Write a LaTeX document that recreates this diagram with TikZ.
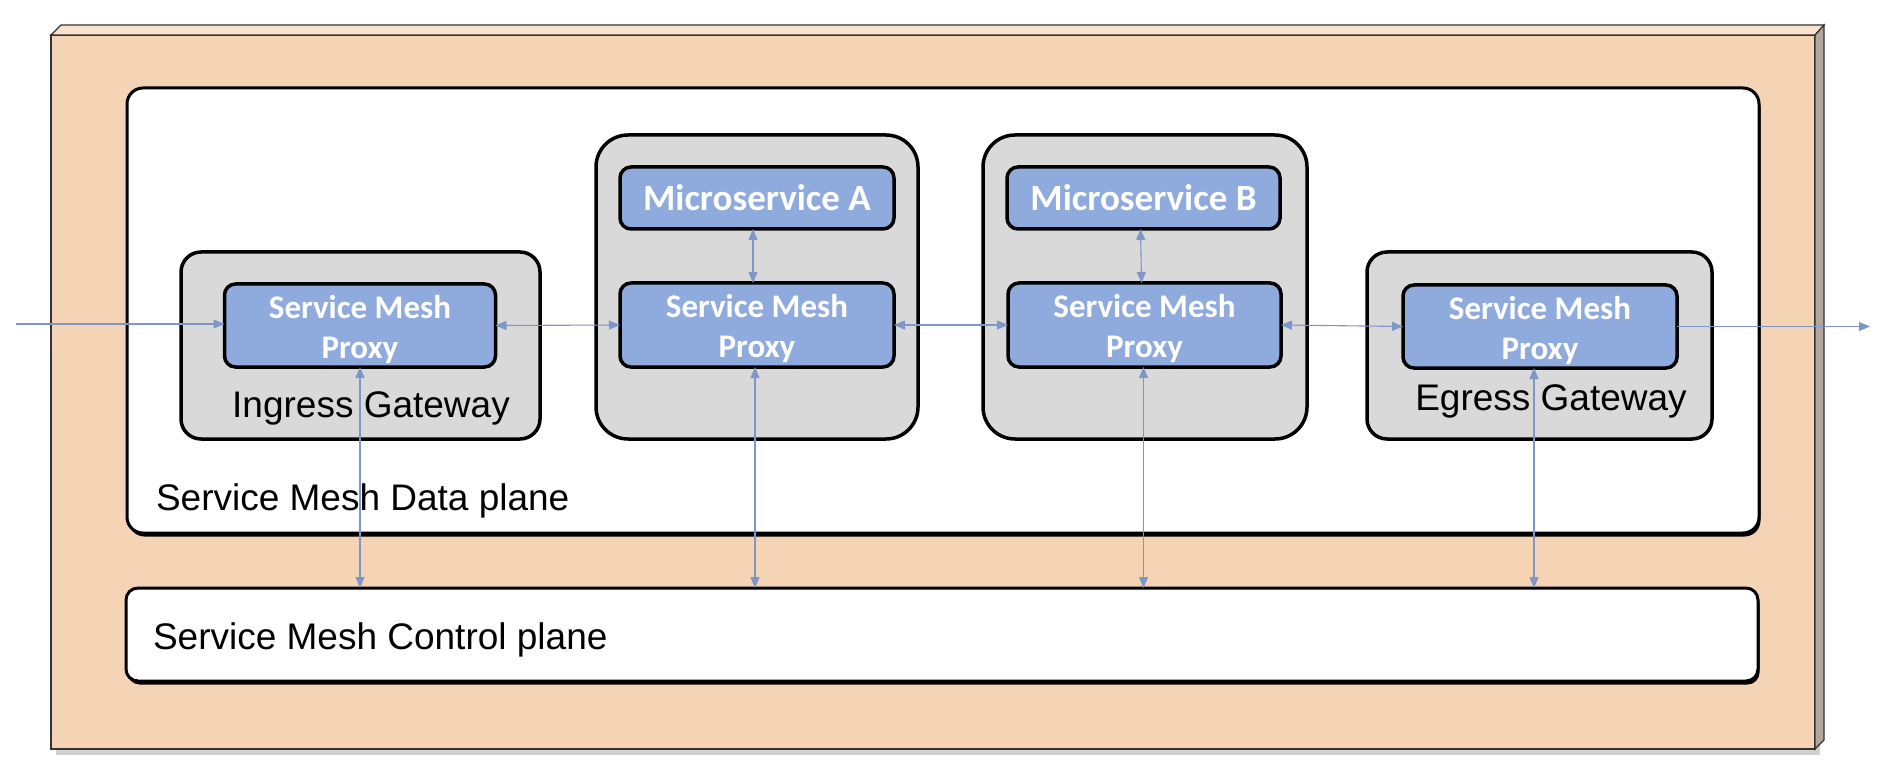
\documentclass[tikz,border=0pt]{standalone}
\usepackage{fontspec}
\setmainfont{Liberation Sans}
\newfontfamily\calibfont{Carlito}
\usetikzlibrary{arrows.meta,calc}
\definecolor{peach}{HTML}{F5D3B5}
\definecolor{peachtop}{HTML}{F9E2CE}
\definecolor{bevelside}{HTML}{B3A69C}
\definecolor{boxgray}{HTML}{D9D9D9}
\definecolor{proxyblue}{HTML}{8FAADC}
\definecolor{linkblue}{HTML}{7F96C8}
\newcommand{\proxytxt}{\rule{0pt}{31pt}Service Mesh\\Proxy}
\tikzset{
  every node/.style={outer sep=0pt},
  gwbox/.style={draw=black, line width=3.5pt, fill=boxgray, rounded corners=20pt, anchor=north west, inner sep=0pt},
  ctbox/.style={draw=black, line width=3.5pt, fill=boxgray, rounded corners=32pt, anchor=north west, inner sep=0pt},
  bluebox/.style={draw=black, line width=3.5pt, fill=proxyblue, rounded corners=11pt, text=white,
    font=\calibfont\bfseries\fontsize{33}{40}\selectfont, align=center, inner sep=0pt},
  planebox/.style={draw=black, line width=3pt, fill=white, rounded corners=16pt, anchor=north west, inner sep=0pt,
    preaction={fill=black, transform canvas={shift={(1.5pt,-3.5pt)}}}},
  lbl/.style={font=\fontsize{37}{44}\selectfont, inner sep=0pt},
  link/.style={draw=linkblue, line width=1.1pt, {Triangle[length=11pt,width=9pt]}-{Triangle[length=11pt,width=9pt]}},
  linkone/.style={draw=linkblue, line width=1.1pt, -{Triangle[length=11pt,width=9pt]}},
}
\begin{document}
\begin{tikzpicture}[x=1pt,y=-1pt]
\useasboundingbox (0,0) rectangle (1881,775);
% outer 3D frame
\fill[black!18] (56,40) rectangle (1820,755);
\filldraw[fill=peach, draw=black!80, line width=1.2pt] (51,35) rectangle (1815,749);
\filldraw[fill=peachtop, draw=black!80, line width=1.2pt] (51,35) -- (61,25) -- (1824,25) -- (1815,35) -- cycle;
\filldraw[fill=bevelside, draw=black!80, line width=1.2pt] (1815,35) -- (1824,25) -- (1824,740) -- (1815,749) -- cycle;

% planes
\node[planebox, minimum width=1632pt, minimum height=445pt] (dp) at (127,88) {};
\node[planebox, minimum width=1632pt, minimum height=93pt, rounded corners=12pt] (cp) at (126,588) {};
\node[lbl, anchor=base west] (dpl) at (156,510) {Service Mesh Data plane};
\node[lbl, anchor=base west] (cpl) at (153,649) {Service Mesh Control plane};

% containers
\node[gwbox, minimum width=359pt, minimum height=187pt] (ingw) at (181,252) {};
\node[ctbox, minimum width=322pt, minimum height=304pt] (ca) at (596,135) {};
\node[ctbox, minimum width=324pt, minimum height=304pt] (cb) at (983,135) {};
\node[gwbox, minimum width=345pt, minimum height=187pt] (egw) at (1367,252) {};

% blue boxes
\node[bluebox, minimum width=271pt, minimum height=83pt] (pin) at (360,325.5) {\proxytxt};
\node[bluebox, minimum width=274pt, minimum height=62pt, font=\calibfont\bfseries\fontsize{37}{44}\selectfont] (ma) at (757,198) {Microservice A};
\node[bluebox, minimum width=274pt, minimum height=84pt] (pa) at (757,325) {\proxytxt};
\node[bluebox, minimum width=273pt, minimum height=62pt, font=\calibfont\bfseries\fontsize{37}{44}\selectfont] (mb) at (1143.5,198) {Microservice B};
\node[bluebox, minimum width=273pt, minimum height=84pt] (pb) at (1144.5,325) {\proxytxt};
\node[bluebox, minimum width=274pt, minimum height=83pt] (pout) at (1540,326.5) {\proxytxt};

% gateway labels
\node[lbl, anchor=base] (ingl) at (371,417) {Ingress Gateway};
\node[lbl, anchor=base] (egl) at (1551,410) {Egress Gateway};

% connectors
\coordinate (inL) at (16,324);
\coordinate (outR) at (1870,326.5);
\draw[linkone] (inL) -- (inL -| pin.west);
\draw[link] (pin.east) -- (pa.west);
\draw[link] (pa.east) -- (pb.west);
\draw[link] (pb.east) -- (pout.west);
\draw[linkone] (pout.east) -- (outR);

\draw[link] ([xshift=-4pt]ma.south) -- ([xshift=-4pt]pa.north);
\draw[link] ([xshift=-3pt]mb.south) -- ([xshift=-3pt]pb.north);

\draw[link] (pin.south) -- (pin.south |- cp.north);
\draw[link] ([xshift=-2pt]pa.south) -- ([xshift=-2pt]pa.south |- cp.north);
\draw[link] ([xshift=-1pt]pb.south) -- ([xshift=-1pt]pb.south |- cp.north);
\draw[link] ([xshift=-6pt]pout.south) -- ([xshift=-6pt]pout.south |- cp.north);
\end{tikzpicture}
\end{document}
